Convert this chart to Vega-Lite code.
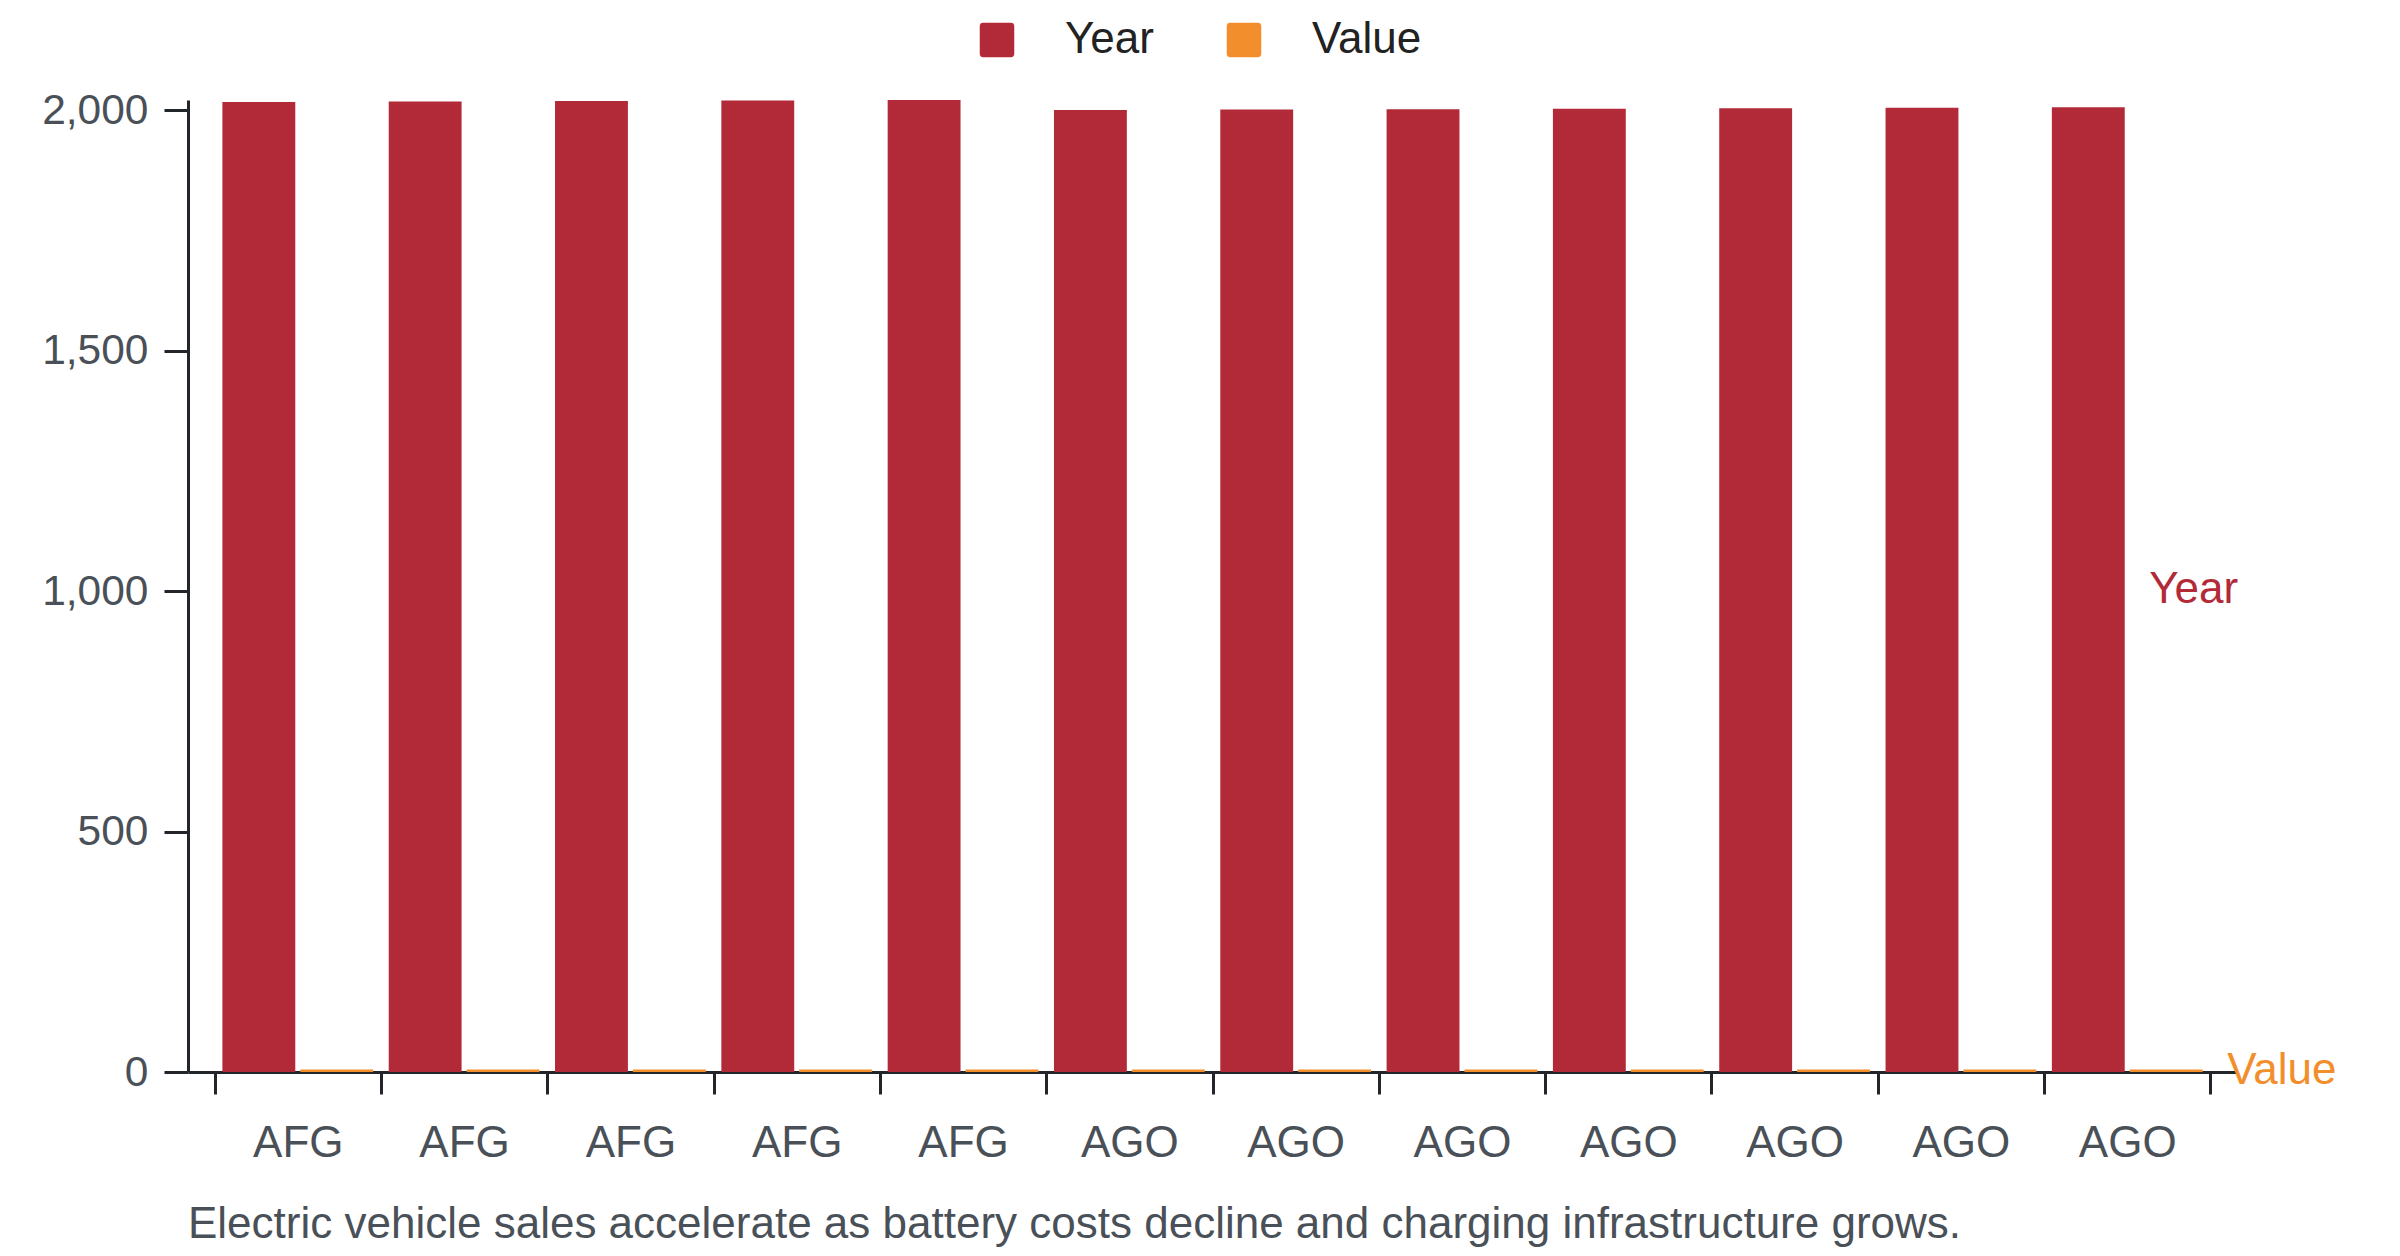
{
  "$schema": "https://vega.github.io/schema/vega-lite/v6.json",
  "width": 2049,
  "height": 972,
  "autosize": {"type": "none"},
  "padding": {"left": 188, "top": 100, "right": 163, "bottom": 184},
  "background": "#ffffff",
  "config": {
    "font": "Liberation Sans",
    "view": {"stroke": null}
  },
  "title": {
    "text": "Electric vehicle sales accelerate as battery costs decline and charging infrastructure grows.",
    "orient": "bottom",
    "anchor": "start",
    "frame": "group",
    "fontSize": 44,
    "fontWeight": "normal",
    "color": "#4a5058",
    "font": "Liberation Sans",
    "offset": 38
  },
  "data": {
    "values": [
      {"Country": "AFG", "Year": 2017, "Value": 5},
      {"Country": "AFG", "Year": 2018, "Value": 5},
      {"Country": "AFG", "Year": 2019, "Value": 5},
      {"Country": "AFG", "Year": 2020, "Value": 5},
      {"Country": "AFG", "Year": 2021, "Value": 5},
      {"Country": "AGO", "Year": 2000, "Value": 5},
      {"Country": "AGO", "Year": 2001, "Value": 5},
      {"Country": "AGO", "Year": 2002, "Value": 5},
      {"Country": "AGO", "Year": 2003, "Value": 5},
      {"Country": "AGO", "Year": 2004, "Value": 5},
      {"Country": "AGO", "Year": 2005, "Value": 5},
      {"Country": "AGO", "Year": 2006, "Value": 5}
    ]
  },
  "transform": [
    {"calculate": "datum.Country + '|' + datum.Year", "as": "key"},
    {"fold": ["Year", "Value"], "as": ["series", "amount"]}
  ],
  "encoding": {
    "x": {
      "field": "key",
      "type": "nominal",
      "sort": null,
      "scale": {"paddingInner": 0, "paddingOuter": 0.16},
      "axis": {
        "title": null,
        "labelExpr": "isValid(datum.value) ? split(datum.value, '|')[0] : ''",
        "labelAngle": 0,
        "labelFontSize": 44,
        "labelColor": "#4a5058",
        "labelPadding": 27,
        "tickBand": "extent",
        "tickSize": 22,
        "tickWidth": 3,
        "tickColor": "#22252a",
        "domainColor": "#22252a",
        "domainWidth": 3,
        "grid": false
      }
    },
    "y": {
      "field": "amount",
      "type": "quantitative",
      "scale": {"nice": false, "zero": true},
      "axis": {
        "title": null,
        "values": [0, 500, 1000, 1500, 2000],
        "format": ",.0f",
        "labelFontSize": 42.5,
        "labelColor": "#4a5058",
        "labelPadding": 16,
        "tickSize": 24,
        "tickWidth": 3,
        "tickColor": "#22252a",
        "domainColor": "#22252a",
        "domainWidth": 3,
        "grid": false
      }
    },
    "color": {
      "field": "series",
      "type": "nominal",
      "scale": {"domain": ["Year", "Value"], "range": ["#b22a38", "#f28e2b"]},
      "legend": {
        "title": null,
        "orient": "none",
        "legendX": 787,
        "legendY": -82,
        "direction": "horizontal",
        "symbolType": "M-0.8,-1 L0.8,-1 Q1,-1 1,-0.8 L1,0.8 Q1,1 0.8,1 L-0.8,1 Q-1,1 -1,0.8 L-1,-0.8 Q-1,-1 -0.8,-1 Z",
        "symbolSize": 1190,
        "symbolStrokeWidth": 0,
        "symbolOpacity": 1,
        "labelFontSize": 44,
        "labelColor": "#222222",
        "labelOffset": 46,
        "columnPadding": 68,
        "padding": 0
      }
    }
  },
  "layer": [
    {
      "mark": {"type": "bar"},
      "encoding": {
        "xOffset": {"field": "series", "type": "nominal", "sort": ["Year", "Value"], "scale": {"paddingInner": 0.064, "paddingOuter": 0.1}}
      }
    },
    {
      "transform": [
        {"filter": "datum.key === 'AGO|2006'"},
        {"calculate": "datum.amount / 2", "as": "mid"}
      ],
      "mark": {"type": "text", "align": "left", "baseline": "middle", "fontSize": 44, "dx": 61},
      "encoding": {
        "xOffset": {"field": "series", "type": "nominal", "sort": ["Year", "Value"]},
        "y": {"field": "mid", "type": "quantitative"},
        "text": {"field": "series"}
      }
    }
  ]
}
